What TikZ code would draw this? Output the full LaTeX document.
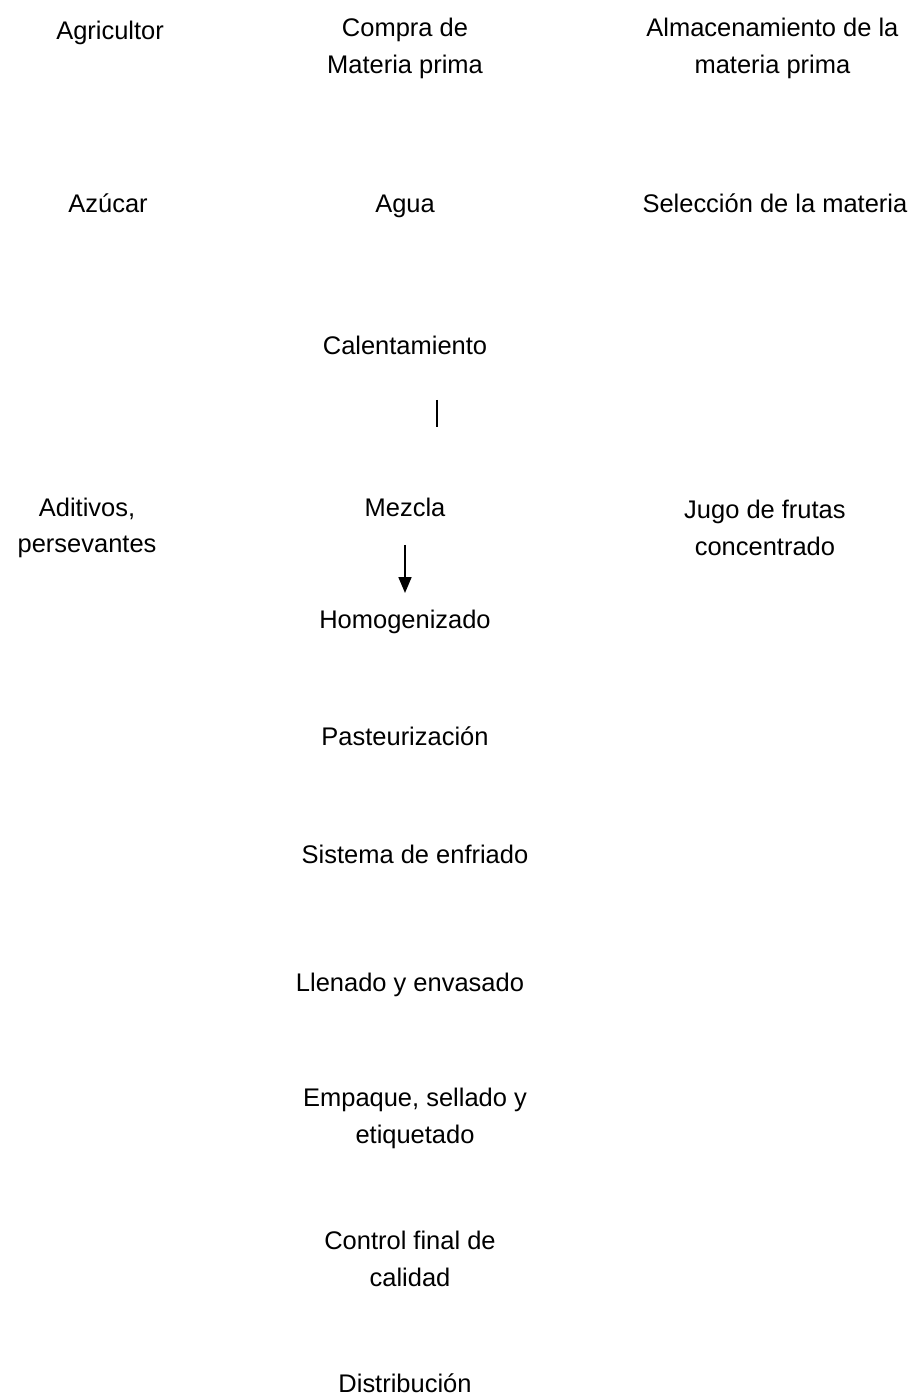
\documentclass[tikz,border=0pt]{standalone}
\usepackage{fontspec}
\setmainfont{Liberation Sans}
\usetikzlibrary{positioning}
\usetikzlibrary{arrows.meta}

\tikzset{
  paso/.style={align=center, inner sep=0pt, font=\fontsize{14.5}{21}\selectfont},
  pasouno/.style={paso, text height=12.5pt, text depth=2pt},
  flecha/.style={line width=0.6pt, -{Triangle[length=9pt,width=7.5pt]}}
}

\begin{document}
\begin{tikzpicture}[x=0.02cm,y=-0.02cm,node distance=2cm,on grid]
   \useasboundingbox (0,0) rectangle (918,1395);
   % fila de arriba
   \node[paso] (compra) at (405,48) {Compra de\\Materia prima};
   \node[pasouno] (agricultor) [above left=0.36cm and 5.9cm of compra] {Agricultor};
   \node[paso] (almacen) [right=7.35cm of compra] {Almacenamiento de la\\materia prima};
   \node[pasouno] (agua) [below=3.1cm of compra] {Agua};
   \node[pasouno] (azucar) [left=5.94cm of agua] {Az\'ucar};
   \node[pasouno] (seleccion) [right=7.4cm of agua] {Selecci\'on de la materia};
   % columna central
   \node[pasouno] (calent) [below=2.84cm of agua] {Calentamiento};
   \node[pasouno] (mezcla) [below=3.24cm of calent] {Mezcla};
   \node[paso] (aditivos) [below left=0.42cm and 6.36cm of mezcla] {Aditivos,\\persevantes};
   \node[paso] (jugo) [below right=0.42cm and 7.2cm of mezcla] {Jugo de frutas\\concentrado};
   \node[pasouno] (homog) [below=2.24cm of mezcla] {Homogenizado};
   \node[pasouno] (pasteur) [below=2.34cm of homog] {Pasteurizaci\'on};
   \node[pasouno] (enfriado) [below right=2.36cm and 0.2cm of pasteur] {Sistema de enfriado};
   \node[pasouno] (llenado) [below left=2.56cm and 0.1cm of enfriado] {Llenado y envasado};
   \node[paso] (empaque) [below right=2.74cm and 0.1cm of llenado] {Empaque, sellado y\\etiquetado};
   \node[paso] (control) [below left=2.8cm and 0.1cm of empaque] {Control final de\\calidad};
   \node[pasouno] (distrib) [below left=2.5cm and 0.1cm of control] {Distribuci\'on};
   % trazos
   \coordinate (c_1) at ([xshift=0.64cm,yshift=-1.1cm]calent.center);
   \coordinate (c_2) at ([yshift=-0.54cm]c_1);
   \draw[line width=0.6pt] (c_1) -- (c_2);
   \draw[flecha, shorten <=0.76cm, shorten >=0.52cm] (mezcla.center) -- (homog.center);
\end{tikzpicture}
\end{document}
